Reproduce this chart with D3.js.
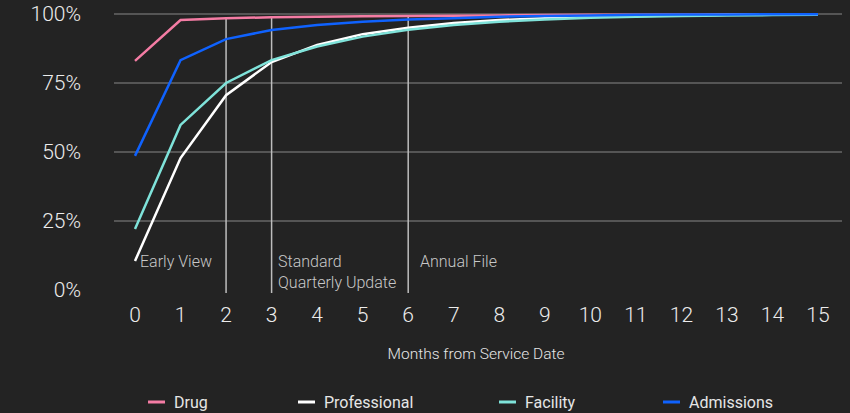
<!DOCTYPE html>
<html>
<head>
<meta charset="utf-8">
<script src="https://cdn.jsdelivr.net/npm/d3@7"></script>
<style>
  body { margin: 0; background: #232323; }
  svg { display: block; font-family: Roboto, "Noto Sans", sans-serif; font-weight: 300; }
</style>
</head>
<body>
<svg id="chart" width="850" height="413"></svg>
<script>
const months = d3.range(0, 16);
const yTicks = [0, 0.25, 0.5, 0.75, 1];
const gridTicks = [0.25, 0.5, 0.75, 1];

const seriesNames = ["Drug", "Professional", "Facility", "Admissions"];
const seriesColors = ["#f47ca4", "#ffffff", "#7fe3da", "#0f62fe"];

const drug = [0.83, 0.978, 0.985, 0.988, 0.99, 0.992, 0.993, 0.994, 0.995, 0.996, 0.997, 0.997, 0.998, 0.998, 0.999, 0.999];
const professional = [0.105, 0.478, 0.706, 0.826, 0.888, 0.927, 0.95, 0.967, 0.978, 0.985, 0.99, 0.993, 0.995, 0.997, 0.998, 0.998];
const facility = [0.221, 0.598, 0.75, 0.833, 0.882, 0.918, 0.943, 0.96, 0.972, 0.98, 0.986, 0.99, 0.993, 0.995, 0.996, 0.997];
const admissions = [0.486, 0.833, 0.909, 0.942, 0.96, 0.972, 0.98, 0.985, 0.99, 0.993, 0.995, 0.997, 0.998, 0.998, 0.999, 0.999];
const seriesValues = [drug, professional, facility, admissions];

// release milestones
const markerMonths = [2, 3, 6];
const markerLabels = [["Early View"], ["Standard", "Quarterly Update"], ["Annual File"]];
const markerLabelX = [140, 278, 420];

const svg = d3.select("#chart");
const x = d3.scaleLinear().domain([0, 15]).range([135, 818]);
const y = d3.scaleLinear().domain([0, 1]).range([290, 14]);

// gridlines
svg.append("g").selectAll("line").data(gridTicks).enter().append("line")
  .attr("x1", 114).attr("x2", 842)
  .attr("y1", d => y(d)).attr("y2", d => y(d))
  .attr("stroke", "#555").attr("stroke-width", 2);

// y labels
svg.append("g").selectAll("text").data(yTicks).enter().append("text")
  .attr("x", 81).attr("y", d => y(d)).attr("dy", "0.35em")
  .attr("text-anchor", "end").attr("fill", "#ececec")
  .attr("font-size", 21).text(d => d3.format(".0%")(d));

// x labels
svg.append("g").selectAll("text").data(months).enter().append("text")
  .attr("x", d => x(d)).attr("y", 322)
  .attr("text-anchor", "middle").attr("fill", "#ececec")
  .attr("font-size", 21).text(d => d);

svg.append("text").attr("x", 476).attr("y", 359)
  .attr("text-anchor", "middle").attr("fill", "#e6e6e6")
  .attr("font-size", 15.5).text("Months from Service Date");

// milestone lines
svg.append("g").selectAll("line").data(markerMonths).enter().append("line")
  .attr("x1", d => x(d)).attr("x2", d => x(d))
  .attr("y1", 17).attr("y2", 293)
  .attr("stroke", "#bdbdbd").attr("stroke-width", 1.5);

// series
const line = d3.line().x((d, i) => x(months[i])).y(d => y(d));
svg.append("g").selectAll("path").data(seriesValues).enter().append("path")
  .attr("d", line).attr("fill", "none")
  .attr("stroke", (d, i) => seriesColors[i]).attr("stroke-width", 2.5);

// milestone labels
markerLabels.forEach((lines, k) => {
  const t = svg.append("text")
    .attr("y", 267).attr("fill", "#c8c8c8").attr("font-size", 16);
  lines.forEach((s, j) => {
    t.append("tspan").attr("x", markerLabelX[k])
      .attr("dy", j === 0 ? 0 : 21).text(s);
  });
});

// legend
const legendX = [148, 298, 499, 663];
const lg = svg.append("g").selectAll("g").data(seriesNames).enter().append("g")
  .attr("transform", (d, i) => `translate(${legendX[i]},402)`);
lg.append("line").attr("x1", 0).attr("x2", 17).attr("y1", 0).attr("y2", 0)
  .attr("stroke", (d, i) => seriesColors[i]).attr("stroke-width", 3);
lg.append("text").attr("x", 26).attr("dy", "0.35em")
  .attr("fill", "#e6e6e6").attr("font-size", 16).attr("font-weight", 400).text(d => d);
</script>
</body>
</html>
